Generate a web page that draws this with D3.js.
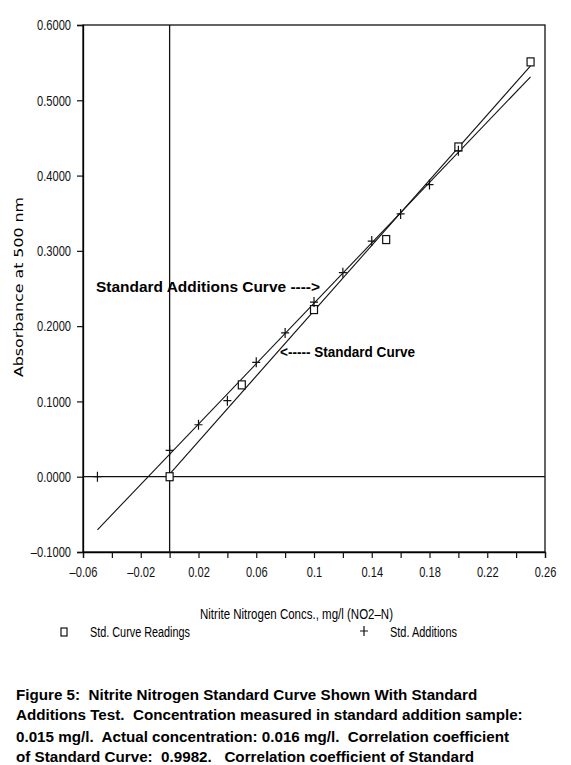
<!DOCTYPE html>
<html>
<head>
<meta charset="utf-8">
<script src="https://cdn.jsdelivr.net/npm/d3@7"></script>
<style>
  body { margin: 0; background: #fff; }
  .tick text, .plotfont { font-family: "Liberation Sans", Arial, sans-serif; }
  .note { font-family: "Liberation Sans", Arial, sans-serif; font-weight: bold; white-space: pre; }
</style>
</head>
<body>
<div class="chart"></div>
<script>
// data
const stdConc = [0, 0.05, 0.10, 0.15, 0.20, 0.25];
const stdAbs = [0.000, 0.122, 0.222, 0.315, 0.438, 0.551];

const addConc = [-0.05, 0, 0.02, 0.04, 0.06, 0.08, 0.10, 0.12, 0.14, 0.16, 0.18, 0.20];
const addAbs = [0.000, 0.035, 0.069, 0.101, 0.152, 0.191, 0.232, 0.271, 0.313, 0.349, 0.388, 0.433];

const stdFitRange = [0, 0.25];
const addFitRange = [-0.05, 0.25];

const xTicks = d3.range(-0.06, 0.2601, 0.02).map(v => +v.toFixed(2));
const xLabels = [-0.06, -0.02, 0.02, 0.06, 0.1, 0.14, 0.18, 0.22, 0.26];
const yTicks = [-0.1, 0, 0.1, 0.2, 0.3, 0.4, 0.5, 0.6];

const caption = [
  "Figure 5:  Nitrite Nitrogen Standard Curve Shown With Standard",
  "Additions Test.  Concentration measured in standard addition sample:",
  "0.015 mg/l.  Actual concentration: 0.016 mg/l.  Correlation coefficient",
  "of Standard Curve:  0.9982.   Correlation coefficient of Standard"
];

// margin convention
const margin = ({top: 25, right: 26, bottom: 213, left: 83});
const width = 571 - margin.left - margin.right;
const height = 765 - margin.top - margin.bottom;

const root = d3.select(".chart")
  .append("svg")
  .attr("width", 571)
  .attr("height", 765);

const svg = root.append("g")
  .attr("transform", `translate(${margin.left},${margin.top})`);

const xScale = d3.scaleLinear().domain([-0.06, 0.26]).range([0, width]);
const yScale = d3.scaleLinear().domain([-0.1, 0.6]).range([height, 0]);

// least squares fit
function fit(xs, ys) {
  const mx = d3.mean(xs), my = d3.mean(ys);
  const sxy = d3.sum(xs, (x, i) => (x - mx) * (ys[i] - my));
  const sxx = d3.sum(xs, x => (x - mx) * (x - mx));
  const slope = sxy / sxx;
  return {slope, icpt: my - slope * mx};
}

const stdFit = fit(stdConc, stdAbs);
const addIdx = addConc.map((c, i) => i).filter(i => addConc[i] >= 0);
const addFit = fit(addIdx.map(i => addConc[i]), addIdx.map(i => addAbs[i]));

// narrow plotter lettering
function narrow(sel) {
  sel.each(function() {
    const t = d3.select(this);
    const s = t.text();
    if (!s) return;
    const w = d3.sum(s.split(""), c => c === "." ? 3 : 6.2);
    t.attr("textLength", w).attr("lengthAdjust", "spacingAndGlyphs");
  });
}

// frame
svg.append("rect")
  .attr("width", width).attr("height", height)
  .attr("fill", "none").attr("stroke", "#111").attr("stroke-width", 1.3);

// axes
const xAxis = d3.axisBottom(xScale)
  .tickValues(xTicks)
  .tickSize(6)
  .tickFormat(d => xLabels.some(v => Math.abs(v - d) < 1e-9) ? d3.format("~g")(d).replace("\u2212", "\u2013").replace("-", "\u2013") : "");

svg.append("g")
  .attr("transform", `translate(0,${height})`)
  .call(xAxis)
  .call(g => g.select(".domain").attr("stroke-width", 1.3))
  .call(g => g.selectAll(".tick line").attr("stroke", "#111").attr("stroke-width", 1.2))
  .call(g => g.selectAll(".tick text").attr("font-size", 15).attr("y", 14).attr("dy", "0.71em").attr("fill", "#111").call(narrow));

const yAxis = d3.axisLeft(yScale)
  .tickValues(yTicks)
  .tickSize(6)
  .tickFormat(d => d3.format(".4f")(d).replace("\u2212", "\u2013"));

svg.append("g")
  .call(yAxis)
  .call(g => g.select(".domain").attr("stroke-width", 1.3))
  .call(g => g.selectAll(".tick line").attr("stroke", "#111").attr("stroke-width", 1.2))
  .call(g => g.selectAll(".tick text").attr("font-size", 15).attr("x", -12).attr("fill", "#111").call(narrow));

// zero lines
svg.append("line")
  .attr("x1", 0).attr("x2", width)
  .attr("y1", yScale(0)).attr("y2", yScale(0))
  .attr("stroke", "#111").attr("stroke-width", 1.3);

svg.append("line")
  .attr("x1", xScale(0)).attr("x2", xScale(0))
  .attr("y1", 0).attr("y2", height)
  .attr("stroke", "#111").attr("stroke-width", 1.3);

// fitted lines
const line = d3.line()
  .x(d => xScale(d[0]))
  .y(d => yScale(d[1]));

svg.append("path")
  .datum(stdFitRange.map(x => [x, stdFit.icpt + stdFit.slope * x]))
  .attr("fill", "none").attr("stroke", "#111").attr("stroke-width", 1.1)
  .attr("d", line);

svg.append("path")
  .datum(addFitRange.map(x => [x, addFit.icpt + addFit.slope * x]))
  .attr("fill", "none").attr("stroke", "#111").attr("stroke-width", 1.1)
  .attr("d", line);

// markers
svg.selectAll(".sq")
  .data(stdConc)
  .enter()
  .append("rect")
  .attr("class", "sq")
  .attr("x", (d, i) => xScale(d) - 3.5)
  .attr("y", (d, i) => yScale(stdAbs[i]) - 4)
  .attr("width", 7).attr("height", 8)
  .attr("fill", "white").attr("stroke", "#111").attr("stroke-width", 1.2);

svg.selectAll(".plus")
  .data(addConc)
  .enter()
  .append("path")
  .attr("class", "plus")
  .attr("d", (d, i) => {
    const cx = xScale(d), cy = yScale(addAbs[i]);
    return `M${cx - 4},${cy}H${cx + 4}M${cx},${cy - 5}V${cy + 5}`;
  })
  .attr("stroke", "#111").attr("stroke-width", 1.2);

// annotations
svg.append("text")
  .attr("class", "note")
  .attr("x", 13).attr("y", 267)
  .attr("font-size", 15)
  .attr("textLength", 224).attr("lengthAdjust", "spacingAndGlyphs")
  .text("Standard Additions Curve ---->");

svg.append("text")
  .attr("class", "note")
  .attr("x", 197).attr("y", 332)
  .attr("font-size", 15)
  .attr("textLength", 135).attr("lengthAdjust", "spacingAndGlyphs")
  .text("<----- Standard Curve");

// axis titles
root.append("text")
  .attr("transform", "translate(23,287) rotate(-90)")
  .attr("text-anchor", "middle")
  .attr("font-family", "DejaVu Sans, sans-serif")
  .attr("font-size", 12)
  .attr("textLength", 180).attr("lengthAdjust", "spacingAndGlyphs")
  .text("Absorbance at 500 nm");

root.append("text")
  .attr("class", "plotfont")
  .attr("x", 200).attr("y", 619)
  .attr("font-size", 14)
  .attr("textLength", 193).attr("lengthAdjust", "spacingAndGlyphs")
  .text("Nitrite Nitrogen Concs., mg/l (NO2\u2013N)");

// legend
root.append("rect")
  .attr("x", 61).attr("y", 628).attr("width", 6).attr("height", 8)
  .attr("fill", "white").attr("stroke", "#111").attr("stroke-width", 1.2);
root.append("text")
  .attr("class", "plotfont")
  .attr("x", 90).attr("y", 637).attr("font-size", 14)
  .attr("textLength", 100).attr("lengthAdjust", "spacingAndGlyphs")
  .text("Std. Curve Readings");
root.append("path")
  .attr("d", "M360,631H368M364,626V636")
  .attr("stroke", "#111").attr("stroke-width", 1.2);
root.append("text")
  .attr("class", "plotfont")
  .attr("x", 390).attr("y", 637).attr("font-size", 14)
  .attr("textLength", 67).attr("lengthAdjust", "spacingAndGlyphs")
  .text("Std. Additions");

// caption, stretched a little to the scanned line widths
root.append("g")
  .selectAll("text")
  .data(caption)
  .enter()
  .append("text")
  .attr("class", "note")
  .attr("x", 16)
  .attr("y", (d, i) => [700, 720, 742, 762][i])
  .attr("font-size", 14.5)
  .text(d => d)
  .each(function() {
    const w = this.getComputedTextLength();
    d3.select(this).attr("textLength", w * 1.047).attr("lengthAdjust", "spacingAndGlyphs");
  });
</script>
</body>
</html>
